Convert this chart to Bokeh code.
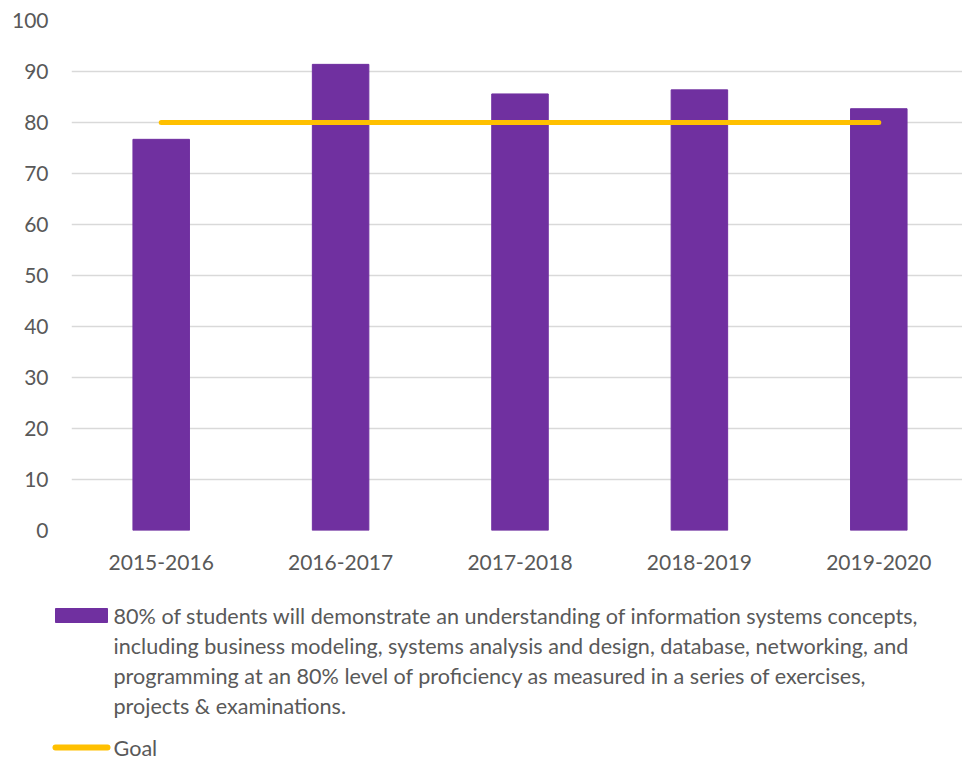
from bokeh.plotting import figure
from bokeh.layouts import column
from bokeh.models import Range1d, FixedTicker
from bokeh.core.properties import value
from bokeh.embed import file_html
from bokeh.resources import INLINE

# ---- data ----
years = ["2015-2016", "2016-2017", "2017-2018", "2018-2019", "2019-2020"]
scores = [76.7, 91.4, 85.6, 86.4, 82.7]
goal = [80, 80, 80, 80, 80]
y_ticks = [0, 10, 20, 30, 40, 50, 60, 70, 80, 90, 100]
series_label_lines = [
    "80% of students will demonstrate an understanding of information systems concepts,",
    "including business modeling, systems analysis and design, database, networking, and",
    "programming at an 80% level of proficiency as measured in a series of exercises,",
    "projects & examinations.",
]
goal_label = "Goal"

# ---- style / layout ----
BAR = "#7030A0"
GOAL = "#FFC000"
TXT = "#595959"
GRID = "#D9D9D9"
FONT = "Lato"
W = 962
MAIN_H, LEG_H = 590, 186
LEFT, TOP, BOTTOM = 71, 20, 60
CAT_PX = 179.4                      # pixel width of one category slot
frame_w = W - LEFT
x_end = frame_w / CAT_PX

x_pos = [i + 0.5 for i in range(len(years))]

p = figure(width=W, height=MAIN_H, x_range=Range1d(0, x_end), y_range=Range1d(0, 100),
           output_backend="svg", toolbar_location=None, frame_align=False,
           min_border_left=LEFT, min_border_right=0, min_border_top=TOP, min_border_bottom=BOTTOM)
p.outline_line_color = None
p.vbar(x=x_pos, top=scores, width=0.315, color=BAR)
p.line(x=x_pos, y=goal, line_color=GOAL, line_width=5, line_cap="round")

p.xgrid.grid_line_color = None
p.ygrid.grid_line_color = GRID
p.ygrid.grid_line_width = 1.3
p.ygrid.ticker = FixedTicker(ticks=y_ticks)
p.yaxis.ticker = FixedTicker(ticks=y_ticks)
p.xaxis.ticker = FixedTicker(ticks=x_pos)
p.xaxis.major_label_overrides = {x: lab for x, lab in zip(x_pos, years)}
for ax in (p.xaxis, p.yaxis):
    ax.axis_line_color = None
    ax.major_tick_line_color = None
    ax.minor_tick_line_color = None
    ax.major_tick_out = 0
    ax.major_label_text_font = FONT
    ax.major_label_text_font_size = "21px"
    ax.major_label_text_color = TXT
p.xaxis.major_label_standoff = 24
p.yaxis.major_label_standoff = 23

# ---- legend panel: a pixel-coordinate figure below the chart ----
lg = figure(width=W, height=LEG_H, x_range=Range1d(0, W), y_range=Range1d(LEG_H, 0),
            output_backend="svg", toolbar_location=None, min_border=0, frame_align=False,
            x_axis_location=None, y_axis_location=None)
lg.outline_line_color = None
lg.grid.visible = False

swatch_l, swatch_r, text_x = 55, 107, 113
line_y = [25.5, 55.5, 85.5, 115.5]
goal_y = 157
lg.quad(left=[swatch_l], right=[swatch_r], top=[18], bottom=[32], color=BAR)
lg.text(x=[text_x] * len(series_label_lines), y=line_y, text=series_label_lines,
        text_font=value(FONT), text_font_size="21.6px", text_color=TXT, text_baseline="middle")
lg.line(x=[swatch_l, swatch_r], y=[goal_y, goal_y], line_color=GOAL, line_width=6, line_cap="round")
lg.text(x=[text_x], y=[goal_y], text=[goal_label], text_font=value(FONT), text_font_size="21.6px",
        text_color=TXT, text_baseline="middle")

layout = column(p, lg, spacing=0)
open("out.html", "w").write(file_html(layout, INLINE))
